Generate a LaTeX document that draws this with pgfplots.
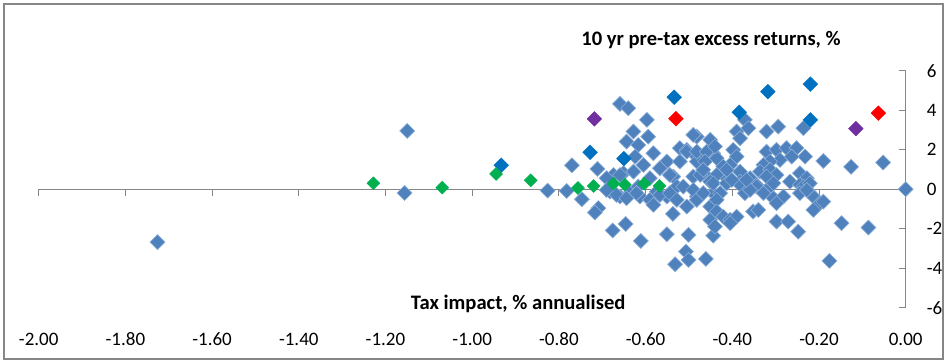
\documentclass[border=0pt]{standalone}
\usepackage{fontspec}
\setmainfont{Carlito}
\usepackage{pgfplots}
\pgfplotsset{compat=1.18}
\definecolor{mblue}{RGB}{79,129,189}
\definecolor{mblueedge}{RGB}{140,175,215}
\definecolor{dblue}{RGB}{0,112,192}
\definecolor{mgreen}{RGB}{0,176,80}
\definecolor{mred}{RGB}{255,0,0}
\definecolor{mpurple}{RGB}{112,48,160}
\definecolor{axgray}{RGB}{134,134,134}
\pgfplotsset{
  dia/.style={only marks, mark=square*, mark size=2.65pt,
    mark options={rotate=45, fill=#1, draw=mblueedge, line width=0.3pt}},
  diab/.style={only marks, mark=square*, mark size=2.6pt,
    mark options={rotate=45, fill=#1, draw=#1, line width=0.2pt}},
}
\begin{document}
\begin{tikzpicture}
\useasboundingbox (-19.35pt,-28.15pt) rectangle (454.65pt,153.85pt);
\begin{axis}[
  at={(0pt,0pt)}, anchor=south west,
  scale only axis, width=433.5pt, height=118.5pt,
  xmin=-2, xmax=0, ymin=-6, ymax=6,
  axis x line=middle, axis y line=right,
  axis line style={-, draw=axgray, line width=0.5pt},
  hide obscured x ticks=false, hide obscured y ticks=false,
  xtick={-2,-1.8,-1.6,-1.4,-1.2,-1,-0.8,-0.6,-0.4,-0.2,0},
  xticklabels={-2.00,-1.80,-1.60,-1.40,-1.20,-1.00,-0.80,-0.60,-0.40,-0.20,0.00},
  ytick={-6,-4,-2,0,2,4,6},
  yticklabels={-6,-4,-2,0,2,4,6},
  tick align=center, major tick length=3.4pt,
  tick style={draw=axgray, line width=0.5pt},
  xtick style={yshift=-1.7pt},
  ytick style={xshift=-1.7pt},
  ticklabel style={font=\fontsize{9.5}{11}\selectfont, text=black},
  xticklabel style={anchor=center, yshift=-73.35pt},
  yticklabel style={anchor=west, xshift=5.3pt},
  clip=false,
]
\addplot[dia=mblue] table {
x y
-1.726 -2.68
-1.150 2.95
-1.156 -0.19
-0.826 -0.07
-0.782 -0.09
-0.747 -0.51
-0.770 1.21
-0.711 1.03
-0.709 -0.96
-0.717 -1.18
-0.676 -2.09
-0.646 -1.76
-0.611 -2.62
-0.551 -2.28
-0.501 -2.31
-0.507 -3.16
-0.532 -3.80
-0.501 -3.58
-0.461 -3.53
-0.444 -2.35
-0.659 4.32
-0.640 4.10
-0.597 3.51
-0.628 2.92
-0.594 2.66
-0.644 2.41
-0.617 2.24
-0.582 1.82
-0.624 1.65
-0.674 0.72
-0.521 2.08
-0.551 1.40
-0.536 0.64
-0.505 1.99
-0.482 2.66
-0.451 2.50
-0.444 1.82
-0.482 1.65
-0.690 0.56
-0.682 -0.12
-0.659 -0.37
-0.636 -0.20
-0.613 -0.37
-0.590 -0.54
-0.574 -0.12
-0.551 -0.37
-0.528 0.13
-0.537 -1.25
-0.505 -0.88
-0.482 -0.37
-0.451 -0.88
-0.451 -1.55
-0.440 -1.89
-0.490 0.64
-0.459 0.64
-0.444 -0.20
-0.617 0.13
-0.590 0.56
-0.651 0.81
-0.505 1.90
-0.490 2.75
-0.482 1.40
-0.521 1.40
-0.605 1.23
-0.567 1.06
-0.544 0.72
-0.628 0.89
-0.659 0.72
-0.690 -0.04
-0.667 -0.29
-0.644 -0.46
-0.621 -0.20
-0.582 -0.79
-0.567 -0.29
-0.544 -0.20
-0.528 -0.54
-0.513 0.13
-0.490 -0.04
-0.482 -0.54
-0.236 3.09
-0.321 2.92
-0.294 3.17
-0.371 3.51
-0.363 3.09
-0.390 2.92
-0.382 2.58
-0.482 1.90
-0.459 1.90
-0.436 1.57
-0.463 1.40
-0.398 1.99
-0.390 1.65
-0.405 1.23
-0.382 0.89
-0.321 1.90
-0.298 1.99
-0.275 2.08
-0.252 2.08
-0.232 1.65
-0.263 1.65
-0.290 1.48
-0.313 1.40
-0.328 1.23
-0.336 0.89
-0.313 0.98
-0.298 0.72
-0.267 0.38
-0.190 1.43
-0.244 0.81
-0.228 0.56
-0.244 0.22
-0.421 1.15
-0.413 0.56
-0.436 0.72
-0.451 0.38
-0.474 0.72
-0.382 0.38
-0.359 0.56
-0.344 0.22
-0.052 1.35
-0.126 1.13
0.000 0.00
-0.086 -1.94
-0.148 -1.72
-0.176 -3.63
-0.467 -0.20
-0.444 0.30
-0.428 -0.20
-0.436 -0.54
-0.413 0.30
-0.382 0.22
-0.371 -0.20
-0.344 0.13
-0.313 0.13
-0.328 -0.20
-0.305 -0.46
-0.282 -0.37
-0.298 -0.71
-0.236 0.13
-0.244 -0.20
-0.213 -0.37
-0.198 -0.71
-0.213 -1.05
-0.190 -0.63
-0.436 -1.13
-0.421 -1.39
-0.405 -1.55
-0.390 -1.39
-0.352 -1.13
-0.340 -1.05
-0.298 -1.64
-0.271 -1.64
-0.248 -2.15
-0.221 0.30
-0.228 -0.04
-0.321 0.64
-0.305 0.30
-0.359 -0.04
-0.367 0.47
-0.401 0.47
-0.413 0.98
-0.440 2.16
-0.467 0.98
-0.405 -1.72
};
\addplot[diab=dblue] table {
x y
-0.933 1.21
-0.728 1.87
-0.650 1.55
-0.534 4.66
-0.318 4.94
-0.220 5.32
-0.384 3.90
-0.220 3.51
};
\addplot[diab=mgreen, mark size=2.3pt] table {
x y
-1.228 0.30
-1.069 0.08
-0.945 0.77
-0.865 0.45
-0.756 0.06
-0.720 0.16
-0.674 0.28
-0.648 0.23
-0.603 0.28
-0.568 0.17
};
\addplot[diab=mred] table {
x y
-0.530 3.57
-0.063 3.85
};
\addplot[diab=mpurple] table {
x y
-0.718 3.56
-0.115 3.07
};
\node[font=\bfseries\fontsize{10.3}{12}\selectfont] at (axis cs:-0.449,7.56) {10 yr pre-tax excess returns, \%};
\node[font=\bfseries\fontsize{10.3}{12}\selectfont] at (axis cs:-0.894,-5.80) {Tax impact, \% annualised};
\end{axis}
\draw[axgray, line width=1pt] (-17.35pt,-25.65pt) rectangle (452.15pt,151.85pt);
\end{tikzpicture}
\end{document}
